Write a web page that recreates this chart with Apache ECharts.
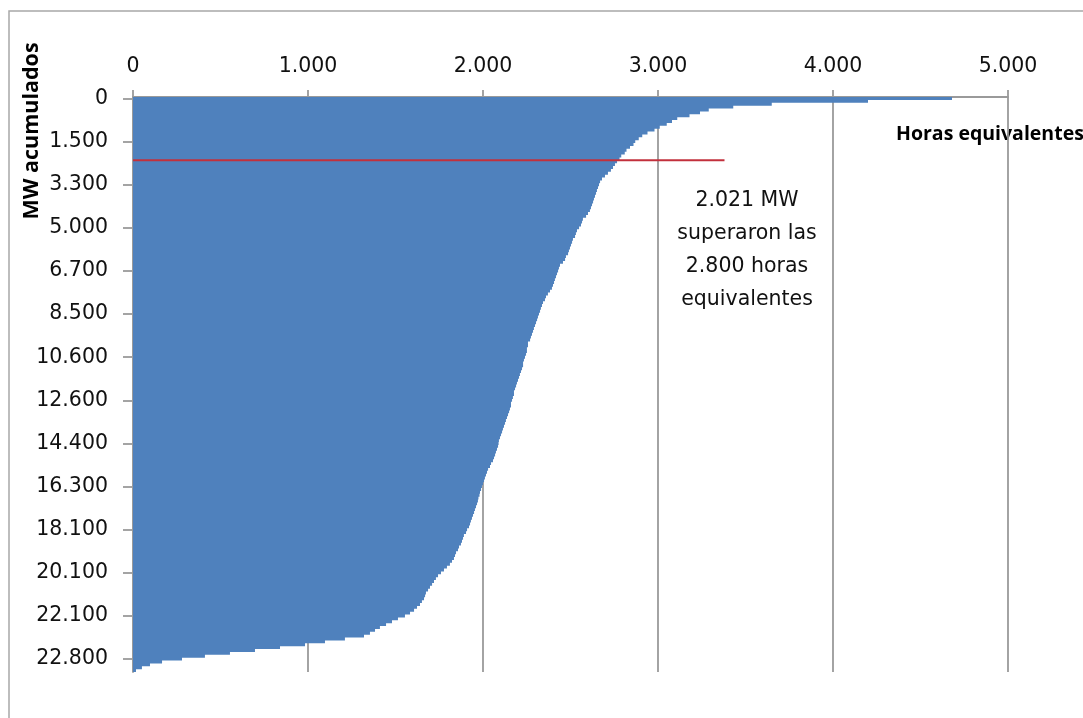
<!DOCTYPE html>
<html>
<head>
<meta charset="utf-8">
<title>MW acumulados por horas equivalentes</title>
<script src="https://cdn.jsdelivr.net/npm/echarts@6/dist/echarts.min.js"></script>
<style>
  html, body { margin: 0; padding: 0; background: #ffffff; }
  #chart { width: 1083px; height: 718px; }
</style>
</head>
<body>
<div id="chart"></div>
<script>
// Equivalent hours of each block, plants sorted from most to fewest hours
const hoursEquivalent = [
  4680, 4200, 3650, 3430, 3290, 3240, 3180, 3110, 3080, 3050,
  3010, 2980, 2940, 2910, 2890, 2870, 2860, 2840, 2820, 2810,
  2790, 2780, 2766, 2754, 2743, 2731, 2714, 2697, 2680, 2669,
  2663, 2657, 2651, 2646, 2640, 2634, 2629, 2623, 2617, 2611,
  2600, 2589, 2571, 2566, 2560, 2549, 2537, 2531, 2526, 2514,
  2509, 2503, 2497, 2491, 2486, 2474, 2469, 2457, 2440, 2434,
  2429, 2423, 2417, 2411, 2406, 2400, 2394, 2383, 2371, 2360,
  2354, 2343, 2337, 2331, 2326, 2320, 2314, 2309, 2303, 2297,
  2291, 2286, 2280, 2274, 2269, 2257, 2257, 2251, 2251, 2246,
  2240, 2234, 2229, 2229, 2223, 2217, 2211, 2206, 2200, 2194,
  2189, 2183, 2177, 2177, 2171, 2166, 2160, 2160, 2154, 2149,
  2143, 2137, 2131, 2126, 2120, 2114, 2109, 2103, 2097, 2091,
  2089, 2086, 2080, 2074, 2069, 2063, 2057, 2046, 2040, 2029,
  2023, 2017, 2011, 2006, 2000, 1994, 1989, 1983, 1980, 1974,
  1971, 1966, 1960, 1954, 1949, 1943, 1937, 1931, 1926, 1920,
  1909, 1903, 1891, 1886, 1880, 1874, 1863, 1857, 1846, 1840,
  1834, 1823, 1811, 1794, 1777, 1760, 1743, 1731, 1720, 1709,
  1697, 1686, 1674, 1669, 1663, 1651, 1640, 1623, 1606, 1583,
  1554, 1514, 1480, 1446, 1411, 1383, 1354, 1320, 1211, 1097,
  983, 840, 697, 554, 411, 280, 166, 97, 51, 17
];

// Cumulative MW shown every LABEL_STEP blocks on the vertical axis
const mwTickLabels = [0, 1500, 3300, 5000, 6700, 8500, 10600, 12600, 14400, 16300, 18100, 20100, 22100, 22800];
const LABEL_STEP = 15;

// Horizontal axis (equivalent hours)
const hoursMin = 0;
const hoursMax = 5000;
const hoursInterval = 1000;

// Threshold marker: 2.021 MW above 2.800 hours
const thresholdRow = 22;          // block boundary where the cumulative 2.021 MW is reached
const thresholdLineHours = [0, 3380];
const noteLines = ['2.021 MW', 'superaron las', '2.800 horas', 'equivalentes'];

const rows = hoursEquivalent.map((_, i) => String(i));

function withDots(n) {
  return String(n).replace(/\B(?=(\d{3})+(?!\d))/g, '.');
}

const AXIS_GRAY = '#9a9a9a';
const BAR_BLUE = '#4F81BD';
const labelFont = 'DejaVu Sans';

const chart = echarts.init(document.getElementById('chart'), null, { renderer: 'canvas' });

chart.setOption({
  animation: false,
  backgroundColor: '#ffffff',
  grid: { left: 133, top: 97, width: 875, height: 575, containLabel: false },
  xAxis: {
    type: 'value',
    position: 'top',
    min: hoursMin,
    max: hoursMax,
    interval: hoursInterval,
    axisLine: { show: true, lineStyle: { color: AXIS_GRAY, width: 1.8 } },
    axisTick: { show: true, inside: false, length: 7, lineStyle: { color: AXIS_GRAY, width: 1.8 } },
    axisLabel: {
      formatter: v => withDots(v),
      fontFamily: labelFont, fontSize: 20.5, color: '#111111', margin: 20
    },
    splitLine: { show: true, lineStyle: { color: AXIS_GRAY, width: 1.8 } }
  },
  yAxis: [
    {
      type: 'category',
      inverse: true,
      data: rows,
      boundaryGap: true,
      axisLine: { show: true, lineStyle: { color: AXIS_GRAY, width: 1.8 } },
      axisTick: {
        show: true, interval: LABEL_STEP - 1, alignWithLabel: true, length: 10,
        lineStyle: { color: AXIS_GRAY, width: 1.8 }
      },
      axisLabel: {
        interval: LABEL_STEP - 1,
        formatter: (v) => {
          const i = Number(v);
          return i % LABEL_STEP === 0 ? withDots(mwTickLabels[i / LABEL_STEP]) : '';
        },
        fontFamily: labelFont, fontSize: 20.5, color: '#111111', margin: 25
      },
      splitLine: { show: false }
    },
    {
      type: 'value',
      inverse: true,
      min: 0,
      max: rows.length,
      show: false
    }
  ],
  series: [
    {
      name: 'Horas equivalentes',
      type: 'bar',
      xAxisIndex: 0,
      yAxisIndex: 0,
      data: hoursEquivalent,
      barCategoryGap: '0%',
      // one filled path for all blocks, so adjacent blocks join without seams
      large: true,
      largeThreshold: 50,
      silent: true,
      itemStyle: { color: BAR_BLUE, borderWidth: 0 }
    },
    {
      name: 'Umbral',
      type: 'line',
      xAxisIndex: 0,
      yAxisIndex: 1,
      data: thresholdLineHours.map(h => [h, thresholdRow]),
      symbol: 'none',
      silent: true,
      lineStyle: { color: '#C2303C', width: 2 },
      z: 5
    }
  ],
  graphic: [
    {
      type: 'rect',
      shape: { x: 9, y: 11, width: 1200, height: 800 },
      style: { fill: 'none', stroke: '#a8a8a8', lineWidth: 1.5 },
      silent: true, z: -1
    },
    {
      type: 'text',
      x: 32, y: 131,
      rotation: Math.PI / 2,
      style: {
        text: 'MW acumulados',
        font: 'bold 21.5px "Open Sans"',
        fill: '#000000',
        align: 'center', verticalAlign: 'middle',
        textAlign: 'center', textVerticalAlign: 'middle'
      }
    },
    {
      type: 'text',
      x: 896, y: 134,
      style: {
        text: 'Horas equivalentes',
        font: 'bold 19.5px "Open Sans"',
        fill: '#000000',
        align: 'left', verticalAlign: 'middle',
        textAlign: 'left', textVerticalAlign: 'middle'
      }
    },
    {
      type: 'text',
      x: 747, y: 184.5,
      style: {
        text: noteLines.join('\n'),
        font: '20.5px "DejaVu Sans"',
        lineHeight: 33,
        fill: '#111111',
        align: 'center', verticalAlign: 'top',
        textAlign: 'center', textVerticalAlign: 'top'
      }
    }
  ]
});
</script>
</body>
</html>
